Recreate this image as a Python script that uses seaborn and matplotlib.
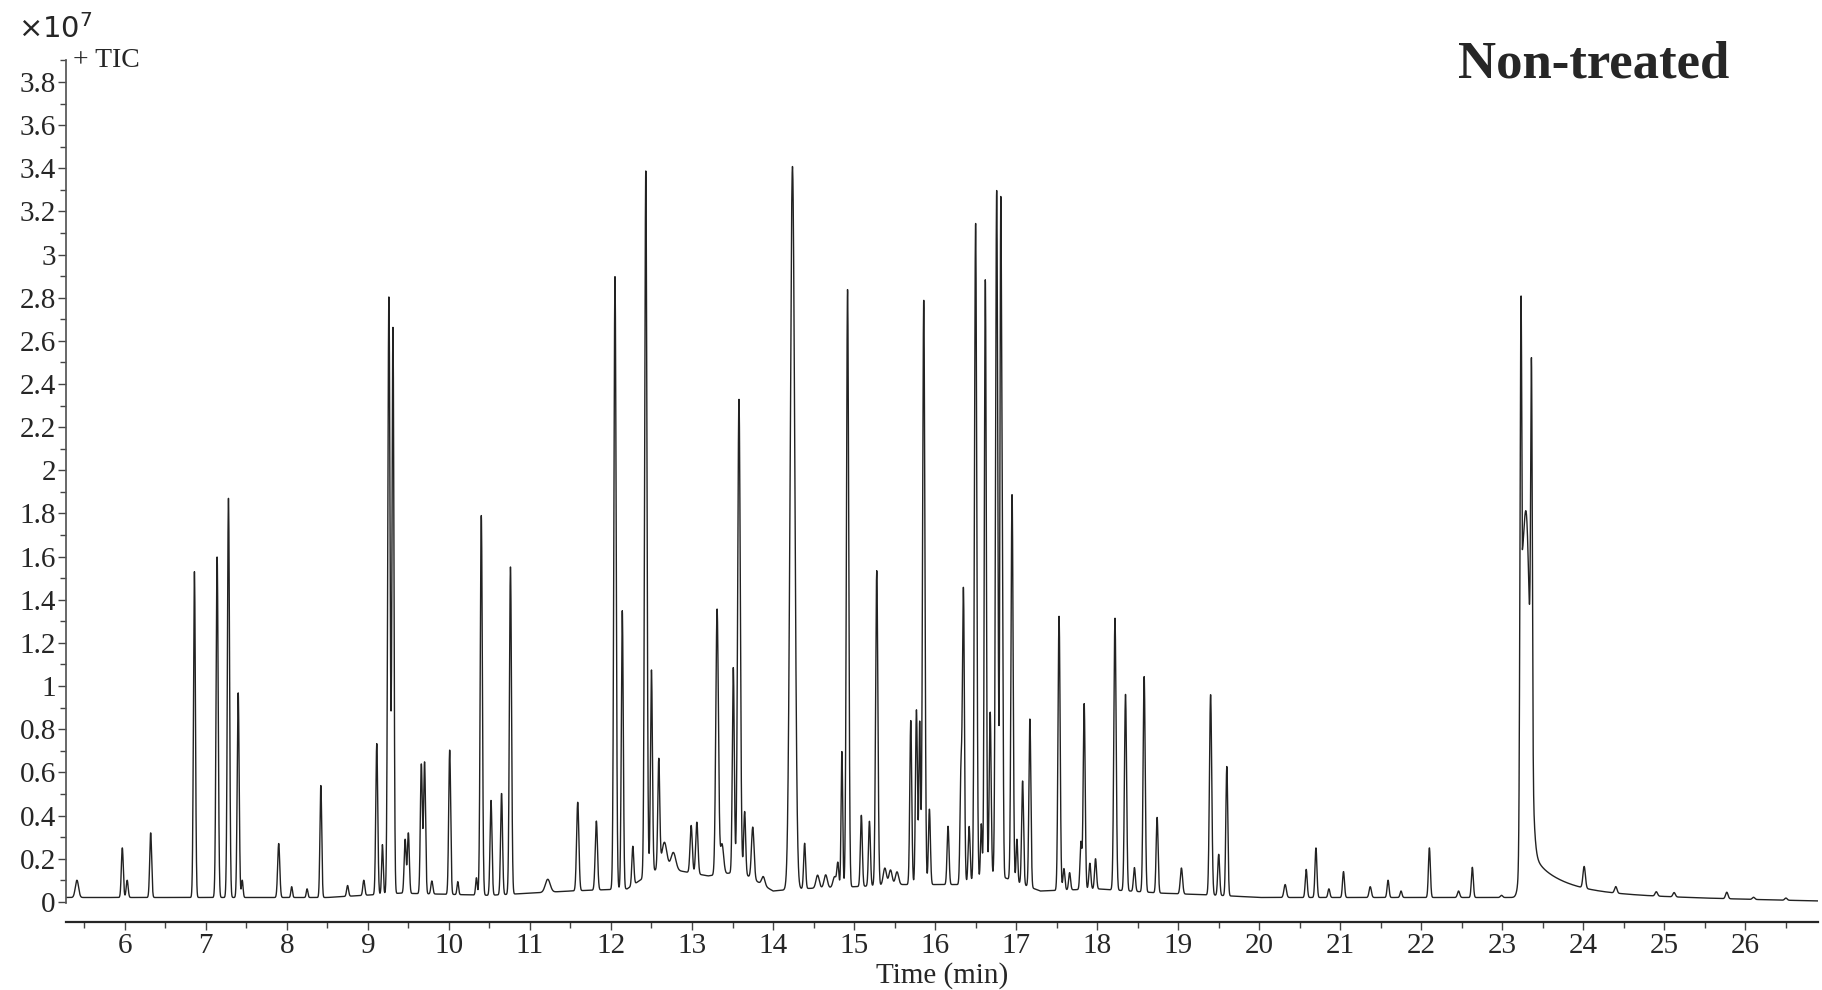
import numpy as np
import pandas as pd
import seaborn as sns
import matplotlib
matplotlib.use("Agg")
import matplotlib.pyplot as plt
from matplotlib.ticker import MultipleLocator

# peak retention times (min), heights (x1e7), widths (sigma, min)
peak_times = [5.41,5.97,6.03,6.32,6.86,7.14,7.28,7.40,7.45,7.90,8.06,8.25,8.42,8.75,8.95,9.11,9.18,9.26,9.31,9.46,9.50,9.66,9.70,9.79,10.01,10.11,10.34,10.40,10.52,10.65,10.76,11.22,11.59,11.82,12.05,12.14,12.27,12.43,12.50,12.59,12.66,12.77,12.99,13.06,13.31,13.37,13.51,13.58,13.65,13.75,13.88,14.24,14.39,14.55,14.65,14.76,14.80,14.85,14.92,15.09,15.19,15.28,15.38,15.45,15.53,15.70,15.77,15.81,15.86,15.93,16.16,16.32,16.35,16.42,16.50,16.57,16.62,16.68,16.76,16.81,16.83,16.95,17.01,17.08,17.17,17.53,17.59,17.66,17.80,17.84,17.91,17.98,18.22,18.35,18.46,18.58,18.74,19.04,19.40,19.50,19.60,20.32,20.58,20.70,20.86,21.04,21.37,21.59,21.75,22.10,22.46,22.63,22.99,23.30,23.36,24.01,24.40,24.90,25.12,25.77,26.10,26.50]
peak_heights = [0.08,0.23,0.08,0.30,1.51,1.58,1.85,0.95,0.08,0.25,0.05,0.04,0.52,0.05,0.07,0.70,0.23,2.77,2.62,0.25,0.28,0.60,0.61,0.06,0.67,0.06,0.08,1.76,0.44,0.47,1.52,0.06,0.41,0.32,2.84,1.29,0.18,3.27,0.94,0.50,0.12,0.08,0.22,0.24,1.23,0.14,0.95,2.19,0.29,0.24,0.04,3.35,0.21,0.06,0.06,0.05,0.11,0.63,2.77,0.33,0.30,1.46,0.08,0.07,0.06,0.76,0.81,0.75,2.71,0.35,0.27,0.52,1.35,0.26,3.05,0.26,2.78,0.77,3.18,2.96,1.26,1.79,0.20,0.48,0.78,1.27,0.10,0.08,0.22,0.86,0.12,0.14,1.26,0.91,0.11,1.00,0.35,0.12,0.93,0.19,0.60,0.06,0.13,0.23,0.04,0.12,0.05,0.08,0.03,0.23,0.03,0.14,0.01,1.30,1.70,0.10,0.03,0.02,0.02,0.03,0.01,0.01]
peak_widths = [0.02,0.012,0.012,0.012,0.012,0.013,0.013,0.012,0.01,0.013,0.01,0.01,0.011,0.012,0.012,0.012,0.01,0.014,0.012,0.012,0.012,0.012,0.012,0.012,0.012,0.01,0.01,0.013,0.012,0.012,0.013,0.03,0.014,0.014,0.014,0.012,0.012,0.014,0.012,0.012,0.03,0.03,0.014,0.014,0.016,0.02,0.012,0.016,0.012,0.016,0.02,0.028,0.012,0.02,0.02,0.02,0.012,0.01,0.014,0.012,0.012,0.014,0.02,0.02,0.02,0.012,0.012,0.01,0.014,0.012,0.012,0.012,0.012,0.012,0.014,0.01,0.012,0.012,0.014,0.01,0.01,0.013,0.01,0.012,0.012,0.013,0.012,0.012,0.012,0.012,0.012,0.012,0.014,0.013,0.012,0.013,0.012,0.014,0.014,0.012,0.012,0.015,0.012,0.012,0.012,0.012,0.014,0.012,0.012,0.012,0.014,0.012,0.014,0.045,0.010,0.015,0.015,0.015,0.015,0.015,0.015,0.015]
# tailing peak at 23.23 min: front height, exponential tail terms
tail_time = 23.23
tail_amps = [1.0, 0.22, 0.04]
tail_taus = [0.05, 0.35, 1.6]
tail_front = 2.4
# baseline knots
base_t = [5.27,6.8,8.5,9.4,10.5,11.5,12.2,12.6,13.2,13.6,14.0,14.3,15.0,15.6,16.3,16.8,17.3,18.0,18.8,19.5,20.0,23.2,26.9]
base_y = [0.02,0.02,0.02,0.04,0.03,0.05,0.06,0.16,0.12,0.14,0.05,0.06,0.07,0.08,0.08,0.12,0.05,0.06,0.04,0.03,0.02,0.02,0.0]

t = np.linspace(5.27, 26.9, 12000)
y = np.interp(t, base_t, base_y)
for c, h, w in zip(peak_times, peak_heights, peak_widths):
    y = y + h * np.exp(-0.5 * ((t - c) / w) ** 2)
after = t >= tail_time
tail = np.zeros_like(t)
for a, tau in zip(tail_amps, tail_taus):
    tail[after] += a * np.exp(-(t[after] - tail_time) / tau)
rise = tail_front * np.exp(-0.5 * ((t - tail_time) / 0.012) ** 2)
y = y + np.where(after, np.maximum(tail, rise), rise)
df = pd.DataFrame({"time": t, "tic": y})

sns.set_theme(style="ticks")
plt.rcParams['font.family'] = ['Liberation Serif', 'DejaVu Serif']
fig = plt.figure(figsize=(18.22, 9.9), dpi=100)
ax = fig.add_axes([0.036, 0.088, 0.962, 0.851])
sns.lineplot(data=df, x="time", y="tic", ax=ax, color="#222222", linewidth=1.0)
ax.set_xlim(5.27, 26.9)
ax.set_ylim(-0.005, 3.9)
ax.spines['top'].set_visible(False)
ax.spines['right'].set_visible(False)
ax.spines['bottom'].set_position(('outward', 14))
ax.spines['bottom'].set_linewidth(1.6)
ax.spines['left'].set_color('#555555')
ax.xaxis.set_major_locator(MultipleLocator(1))
ax.xaxis.set_minor_locator(MultipleLocator(0.5))
ax.yaxis.set_minor_locator(MultipleLocator(0.1))
ax.set_yticks(np.arange(0, 3.81, 0.2))
ax.set_yticklabels([f"{v:g}" for v in np.round(np.arange(0, 3.81, 0.2), 1)])
ax.tick_params(axis='both', labelsize=21, length=6, width=1, direction='out', color='#444444')
ax.tick_params(axis='both', which='minor', length=4, color='#444444')
ax.tick_params(axis='x', pad=2)
ax.tick_params(axis='y', pad=1)
ax.set_xlabel("Time (min)", fontsize=21, labelpad=2)
ax.set_ylabel("")
ax.text(-0.027, 1.02, r"$\times10^{7}$", transform=ax.transAxes, fontsize=21, va='bottom', ha='left')
ax.text(0.004, 0.985, "+ TIC", transform=ax.transAxes, fontsize=20, va='bottom', ha='left')
ax.text(0.872, 0.995, "Non-treated", transform=ax.transAxes, fontsize=38, fontweight='bold',
        ha='center', va='center')
fig.savefig("out.png", dpi=100)
